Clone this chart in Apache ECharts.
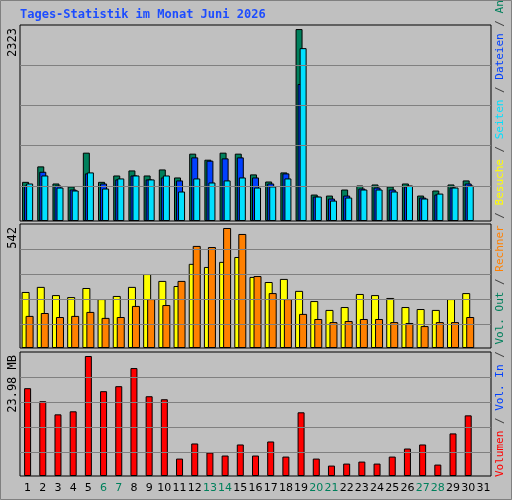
<!DOCTYPE html>
<html><head><meta charset="utf-8">
<script src="https://cdn.jsdelivr.net/npm/echarts@6/dist/echarts.min.js"></script>
<style>html,body{margin:0;padding:0;background:#c0c0c0}#c{width:512px;height:500px}</style>
</head><body><div id="c"></div>
<script>
const days = ['1','2','3','4','5','6','7','8','9','10','11','12','13','14','15','16','17','18','19','20','21','22','23','24','25','26','27','28','29','30','31'];
const weekend = ['6','7','13','14','20','21','27','28'];
const anfragen = [474,661,454,418,827,474,551,612,551,624,527,815,742,827,815,564,478,588,2323,320,308,381,430,442,418,454,308,369,442,491];
const dateien  = [430,596,430,381,576,454,503,551,503,527,491,770,730,758,770,527,454,576,1658,296,272,308,393,405,381,418,284,320,405,454];
const seiten   = [454,551,405,369,588,393,515,551,503,551,357,515,466,491,527,405,418,515,2092,296,247,284,381,381,357,430,272,332,405,430];
const besuche  = [253,276,239,230,271,221,235,276,334,303,280,380,366,389,411,321,298,312,258,212,172,185,244,239,226,185,176,172,221,248];
const rechner  = [145,158,140,145,163,136,140,190,221,194,303,461,456,542,515,325,248,221,154,131,117,122,131,131,117,113,99,117,117,140];
const volumen  = [17.55,14.94,12.32,12.93,23.98,16.95,17.95,21.57,15.94,15.34,3.48,6.50,4.69,4.09,6.30,4.09,6.90,3.88,12.73,3.48,2.08,2.48,2.88,2.48,3.88,5.49,6.30,2.28,8.51,12.12];
const yLabels = ['2323','542','23.98 MB'];

const maxTop = 2372, maxMid = 560, maxBot = 24.78;
const gl = (max, fr) => ({silent:true, symbol:'none', label:{show:false},
  lineStyle:{color:'#808080', type:'solid', width:1},
  data: fr.map(f => ({yAxis: max*f}))});
const border = {borderColor:'#000', borderWidth:1};
const grids = [
  {left:20, width:471, top:25, height:196},
  {left:20, width:471, top:224, height:124},
  {left:20, width:471, top:352, height:124}
];
const F = '11px "DejaVu Sans Mono"';
const rc = c => ({fill:c, font:F});
const option = {
  backgroundColor:'#c0c0c0',
  animation:false,
  grid: grids.map(g => Object.assign({show:true, backgroundColor:'#c0c0c0', borderColor:'#000', borderWidth:1}, g)),
  xAxis: [0,1,2].map(i => ({type:'category', gridIndex:i, data:days,
    axisLine:{show:false}, axisTick:{show:false},
    axisLabel:{show:i===2, fontFamily:'DejaVu Sans', fontSize:11, margin:7, interval:0,
      color: (v) => weekend.includes(v) ? '#00805c' : '#000'}})),
  yAxis: [[0,maxTop],[1,maxMid],[2,maxBot]].map(([i,m]) => ({type:'value', gridIndex:i, min:0, max:m,
    axisLine:{show:false}, axisTick:{show:false}, axisLabel:{show:false}, splitLine:{show:false}})),
  series: [
    {type:'bar', xAxisIndex:0, yAxisIndex:0, data:anfragen, barWidth:7, barGap:'-71%', itemStyle:Object.assign({color:'#00805c'}, border),
      markLine: gl(maxTop,[0.179,0.385,0.59,0.795])},
    {type:'bar', xAxisIndex:0, yAxisIndex:0, data:dateien, barWidth:7, barGap:'-71%', itemStyle:Object.assign({color:'#0040ff'}, border)},
    {type:'bar', xAxisIndex:0, yAxisIndex:0, data:seiten, barWidth:7, barGap:'-71%', itemStyle:Object.assign({color:'#00e0ff'}, border)},
    {type:'bar', xAxisIndex:1, yAxisIndex:1, data:besuche, barWidth:8, barGap:'-50%', itemStyle:Object.assign({color:'#ffff00'}, border),
      markLine: gl(maxMid,[0.194,0.395,0.597,0.798])},
    {type:'bar', xAxisIndex:1, yAxisIndex:1, data:rechner, barWidth:8, barGap:'-50%', itemStyle:Object.assign({color:'#ff8000'}, border)},
    {type:'bar', xAxisIndex:2, yAxisIndex:2, data:volumen, barWidth:7, itemStyle:Object.assign({color:'#ff0000'}, border),
      markLine: gl(maxBot,[0.189,0.392,0.595,0.797])}
  ],
  graphic: [
    {type:'rect', shape:{x:0.5,y:0.5,width:511,height:499}, style:{fill:'none', stroke:'#808080', lineWidth:1}, silent:true},
    {type:'text', x:20, y:9, style:{text:'Tages-Statistik im Monat Juni 2026', fill:'#1c4cff',
      font:'bold 12px "DejaVu Sans Mono"'}},
    {type:'text', x:13, y:28, rotation:Math.PI/2, style:{text:yLabels[0], fill:'#000', font:'12px "DejaVu Sans Mono"', align:'right', verticalAlign:'middle'}},
    {type:'text', x:13, y:227, rotation:Math.PI/2, style:{text:yLabels[1], fill:'#000', font:'12px "DejaVu Sans Mono"', align:'right', verticalAlign:'middle'}},
    {type:'text', x:13, y:355, rotation:Math.PI/2, style:{text:yLabels[2], fill:'#000', font:'12px "DejaVu Sans Mono"', align:'right', verticalAlign:'middle'}},
    {type:'text', x:500, y:477, rotation:Math.PI/2, style:{
      text:'{r|Volumen}{s| / }{b|Vol. In}{s| / }{g|Vol. Out}{s| / }{o|Rechner}{s| / }{y|Besuche}{s| / }{c|Seiten}{s| / }{b|Dateien}{s| / }{g|Anfragen}',
      font:F, align:'left', verticalAlign:'middle',
      rich:{r:rc('#ff0000'),b:rc('#0040ff'),g:rc('#00805c'),o:rc('#ff8000'),y:rc('#ffff00'),c:rc('#00e0ff'),s:rc('#404040')}}}
  ]
};
echarts.init(document.getElementById('c')).setOption(option);
</script></body></html>
